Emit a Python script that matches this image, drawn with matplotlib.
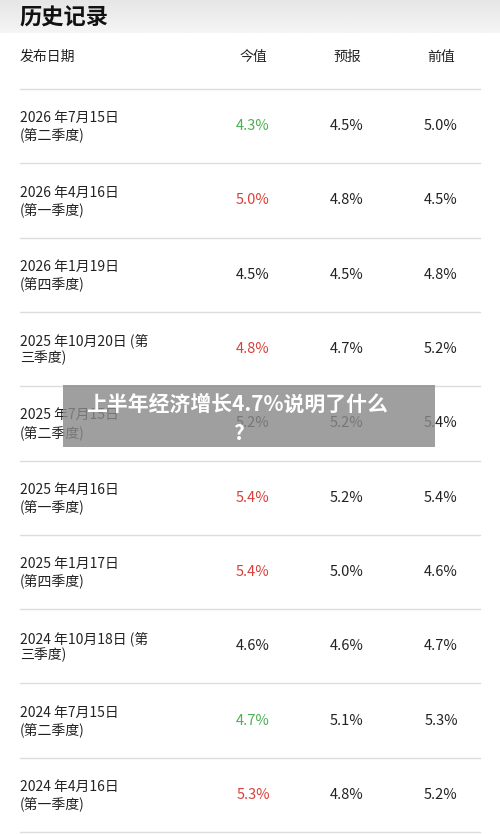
import matplotlib.pyplot as plt
from matplotlib.patches import Rectangle
import numpy as np

plt.rcParams['font.family'] = ['Noto Sans CJK SC', 'DejaVu Sans']

# 表格数据
dates = ['2026 年7月15日', '2026 年4月16日', '2026 年1月19日', '2025 年10月20日 (第',
         '2025 年7月15日', '2025 年4月16日', '2025 年1月17日', '2024 年10月18日 (第',
         '2024 年7月15日', '2024 年4月16日']
quarters = ['(第二季度)', '(第一季度)', '(第四季度)', '三季度)',
            '(第二季度)', '(第一季度)', '(第四季度)', '三季度)',
            '(第二季度)', '(第一季度)']
actual = [4.3, 5.0, 4.5, 4.8, 5.2, 5.4, 5.4, 4.6, 4.7, 5.3]
forecast = [4.5, 4.8, 4.5, 4.7, 5.2, 5.2, 5.0, 4.6, 5.1, 4.8]
previous = [5.0, 4.5, 4.8, 5.2, 5.4, 5.4, 4.6, 4.7, 5.3, 5.2]
headers = ['发布日期', '今值', '预报', '前值']

fig = plt.figure(figsize=(5, 8.34), dpi=100)
ax = fig.add_axes([0, 0, 1, 1])
ax.axis('off')

# 顶部标题栏（浅灰渐变）
grad = np.linspace(0.90, 0.96, 100).reshape(-1, 1)
ax.imshow(grad, extent=(0, 500, 33, 0), cmap='gray', vmin=0, vmax=1, aspect='auto')
ax.set_xlim(0, 500)
ax.set_ylim(834, 0)
ax.text(20, 18, '历史记录', fontsize=16, fontweight='bold', va='center', color='#111111')

cols_x = [253, 347, 441]
ax.text(20, 57, headers[0], fontsize=10, va='center', color='#222222')
for x, h in zip(cols_x, headers[1:]):
    ax.text(x, 57, h, fontsize=10, va='center', ha='center', color='#222222')

row_h = 74.3
top = 89
ax.plot([20, 480], [top, top], color='#dddddd', lw=1)
for i in range(len(dates)):
    yc = top + row_h * (i + 0.5)
    ax.text(20, yc - 8, dates[i], fontsize=10, va='center', color='#222222')
    ax.text(20, yc + 9, quarters[i], fontsize=10, va='center', color='#222222')
    if actual[i] > forecast[i]:
        c = '#d9403a'
    elif actual[i] < forecast[i]:
        c = '#4caf50'
    else:
        c = '#222222'
    ax.text(cols_x[0], yc, f'{actual[i]:.1f}%', fontsize=10.5, ha='center', va='center', color=c)
    ax.text(cols_x[1], yc, f'{forecast[i]:.1f}%', fontsize=10.5, ha='center', va='center', color='#222222')
    ax.text(cols_x[2], yc, f'{previous[i]:.1f}%', fontsize=10.5, ha='center', va='center', color='#222222')
    y_line = top + row_h * (i + 1)
    ax.plot([20, 480], [y_line, y_line], color='#dddddd', lw=1)

# 遮罩标题
ax.add_patch(Rectangle((63, 385), 372, 62, facecolor='#8a8a8a', alpha=0.82, zorder=5))
ax.text(237, 404, '上半年经济增长4.7%说明了什么', fontsize=15, fontweight='bold',
        color='white', ha='center', va='center', zorder=6)
ax.text(238, 433, '?', fontsize=15, fontweight='bold', color='white',
        ha='center', va='center', zorder=6)

fig.savefig('out.png', dpi=100)
